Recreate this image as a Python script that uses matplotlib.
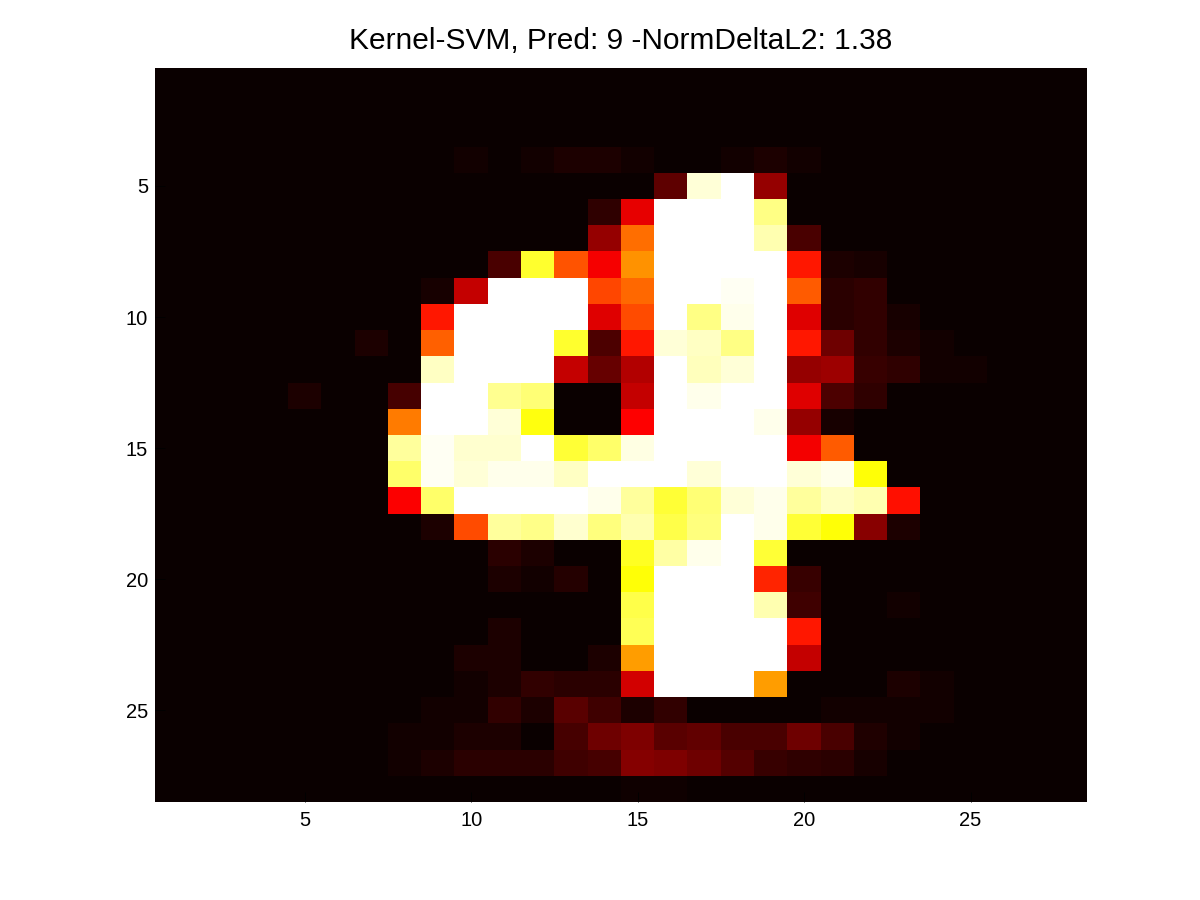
#!/usr/bin/env python

import numpy as np
import matplotlib
matplotlib.use('Agg')
import matplotlib.pyplot as plt

plt.rcParams['font.family'] = ['Liberation Sans', 'DejaVu Sans']

# pixel intensity per image row, 0-1000, columns 1 to 28
row_01 = [0] * 28
row_02 = [0] * 28
row_03 = [0] * 28
row_04 = [0,0,0,0,0,0,0,0,0,15,0,15,30,30,15,0,0,15,30,15,0,0,0,0,0,0,0,0]
row_05 = [0,0,0,0,0,0,0,0,0,0,0,0,0,0,0,127,960,1000,210,0,0,0,0,0,0,0,0,0]
row_06 = [0,0,0,0,0,0,0,0,0,0,0,0,0,56,330,1000,1000,1000,875,0,0,0,0,0,0,0,0,0]
row_07 = [0,0,0,0,0,0,0,0,0,0,0,0,0,210,530,1000,1000,1000,920,94,0,0,0,0,0,0,0,0]
row_08 = [0,0,0,0,0,0,0,0,0,0,94,790,490,355,585,1000,1000,1000,1000,400,30,20,0,0,0,0,0,0]
row_09 = [0,0,0,0,0,0,0,0,20,280,1000,1000,1000,470,520,1000,1000,985,1000,500,50,60,0,0,0,0,0,0]
row_10 = [0,0,0,0,0,0,0,0,400,1000,1000,1000,1000,320,480,1000,875,980,1000,320,50,60,20,0,0,0,0,0]
row_11 = [0,0,0,0,0,0,30,0,510,1000,1000,1000,790,100,400,960,940,875,1000,400,150,60,30,15,0,0,0,0]
row_12 = [0,0,0,0,0,0,0,0,940,1000,1000,1000,280,140,250,1000,930,960,1000,210,220,70,55,15,15,0,0,0]
row_13 = [0,0,0,0,30,0,0,90,1000,1000,890,860,0,0,280,1000,980,1000,1000,320,100,55,0,0,0,0,0,0]
row_14 = [0,0,0,0,0,0,0,550,1000,1000,960,760,0,0,365,1000,1000,1000,980,210,20,0,0,0,0,0,0,0]
row_15 = [0,0,0,0,0,0,0,900,985,950,950,1000,800,850,970,1000,1000,1000,1000,350,500,0,0,0,0,0,0,0]
row_16 = [0,0,0,0,0,0,0,850,985,960,980,980,940,1000,1000,1000,960,1000,1000,960,980,750,0,0,0,0,0,0]
row_17 = [0,0,0,0,0,0,0,360,850,1000,1000,1000,1000,980,900,800,860,960,980,900,940,920,390,0,0,0,0,0]
row_18 = [0,0,0,0,0,0,0,0,30,480,900,880,950,870,920,820,870,1000,980,800,750,190,30,0,0,0,0,0]
row_19 = [0,0,0,0,0,0,0,0,0,0,50,30,0,0,780,910,980,1000,800,0,0,0,0,0,0,0,0,0]
row_20 = [0,0,0,0,0,0,0,0,0,0,30,15,40,0,750,1000,1000,1000,420,70,0,0,0,0,0,0,0,0]
row_21 = [0,0,0,0,0,0,0,0,0,0,0,0,0,0,820,1000,1000,1000,920,80,0,0,15,0,0,0,0,0]
row_22 = [0,0,0,0,0,0,0,0,0,0,30,0,0,0,830,1000,1000,1000,1000,400,0,0,0,0,0,0,0,0]
row_23 = [0,0,0,0,0,0,0,0,0,30,30,0,0,30,600,1000,1000,1000,1000,280,0,0,0,0,0,0,0,0]
row_24 = [0,0,0,0,0,0,0,0,0,15,30,60,50,50,300,1000,1000,1000,600,0,0,0,30,15,0,0,0,0]
row_25 = [0,0,0,0,0,0,0,0,15,15,60,30,120,80,30,60,0,0,0,0,15,15,15,15,0,0,0,0]
row_26 = [0,0,0,0,0,0,0,15,15,30,30,0,90,150,175,120,130,95,95,150,95,35,15,0,0,0,0,0]
row_27 = [0,0,0,0,0,0,0,15,30,50,50,50,80,90,185,175,150,110,70,55,50,20,0,0,0,0,0,0]
row_28 = [0,0,0,0,0,0,0,0,0,0,0,0,0,0,10,10,0,0,0,0,0,0,0,0,0,0,0,0]

rows = [row_01, row_02, row_03, row_04, row_05, row_06, row_07,
        row_08, row_09, row_10, row_11, row_12, row_13, row_14,
        row_15, row_16, row_17, row_18, row_19, row_20, row_21,
        row_22, row_23, row_24, row_25, row_26, row_27, row_28]

x_ticks = [5, 10, 15, 20, 25]
y_ticks = [5, 10, 15, 20, 25]
title = 'Kernel-SVM, Pred: 9 -NormDeltaL2: 1.38'


def main():
    image = np.array(rows)

    fig = plt.figure(figsize=(12, 9), dpi=100)
    ax = fig.add_axes([155 / 1200, 98 / 900, 932 / 1200, 734 / 900])
    ax.imshow(image, cmap='hot', vmin=0, vmax=1000, aspect='auto',
              interpolation='nearest',
              extent=(0.5, 28.5, 28.5, 0.5))

    # the frame is black on black in the original, only adds a pixel here
    for spine in ax.spines.values():
        spine.set_visible(False)

    ax.set_xticks(x_ticks)
    ax.set_yticks(y_ticks)
    ax.tick_params(direction='in', length=7, width=0.6, color='black',
                   labelsize=14.5)
    ax.tick_params(axis='x', pad=6.5)
    ax.tick_params(axis='y', pad=5)
    ax.set_title(title, fontsize=21.5, pad=14)

    fig.savefig('out.png', dpi=100)


if __name__ == '__main__':
    main()
